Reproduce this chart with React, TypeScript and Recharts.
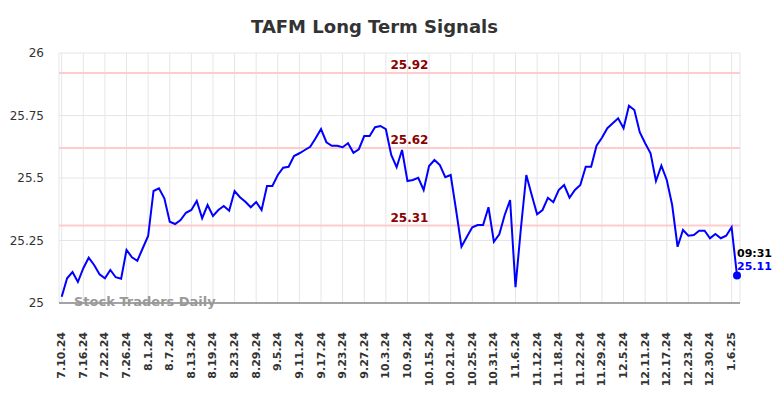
import React from "react";
import {
  LineChart,
  Line,
  XAxis,
  YAxis,
  CartesianGrid,
  ReferenceLine,
} from "recharts";

// trading days, 7.10.24 .. 1.7.25 (last one is the intraday point)
const dates = [
  "7.10.24", "7.11.24", "7.12.24", "7.15.24", "7.16.24", "7.17.24", "7.18.24", "7.19.24",
  "7.22.24", "7.23.24", "7.24.24", "7.25.24", "7.26.24", "7.29.24", "7.30.24", "7.31.24",
  "8.1.24", "8.2.24", "8.5.24", "8.6.24", "8.7.24", "8.8.24", "8.9.24", "8.12.24",
  "8.13.24", "8.14.24", "8.15.24", "8.16.24", "8.19.24", "8.20.24", "8.21.24", "8.22.24",
  "8.23.24", "8.26.24", "8.27.24", "8.28.24", "8.29.24", "8.30.24",
  "9.3.24", "9.4.24", "9.5.24", "9.6.24", "9.9.24", "9.10.24", "9.11.24", "9.12.24",
  "9.13.24", "9.16.24", "9.17.24", "9.18.24", "9.19.24", "9.20.24", "9.23.24", "9.24.24",
  "9.25.24", "9.26.24", "9.27.24", "9.30.24",
  "10.1.24", "10.2.24", "10.3.24", "10.4.24", "10.7.24", "10.8.24", "10.9.24", "10.10.24",
  "10.11.24", "10.14.24", "10.15.24", "10.16.24", "10.17.24", "10.18.24", "10.21.24",
  "10.22.24", "10.23.24", "10.24.24", "10.25.24", "10.28.24", "10.29.24", "10.30.24", "10.31.24",
  "11.1.24", "11.4.24", "11.5.24", "11.6.24", "11.7.24", "11.8.24", "11.11.24", "11.12.24",
  "11.13.24", "11.14.24", "11.15.24", "11.18.24", "11.19.24", "11.20.24", "11.21.24",
  "11.22.24", "11.25.24", "11.26.24", "11.27.24", "11.29.24",
  "12.2.24", "12.3.24", "12.4.24", "12.5.24", "12.6.24", "12.9.24", "12.10.24", "12.11.24",
  "12.12.24", "12.13.24", "12.16.24", "12.17.24", "12.18.24", "12.19.24", "12.20.24",
  "12.23.24", "12.24.24", "12.26.24", "12.27.24", "12.30.24", "12.31.24",
  "1.2.25", "1.3.25", "1.6.25", "1.7.25",
];

const prices = [
  25.025, 25.099, 25.124, 25.084, 25.139, 25.181, 25.152, 25.115, 25.099, 25.132,
  25.103, 25.097, 25.212, 25.183, 25.169, 25.219, 25.268, 25.448, 25.459, 25.419,
  25.325, 25.316, 25.332, 25.361, 25.372, 25.408, 25.339, 25.392, 25.348, 25.372,
  25.388, 25.369, 25.448, 25.423, 25.405, 25.383, 25.404, 25.372, 25.468, 25.468,
  25.512, 25.541, 25.545, 25.588, 25.599, 25.612, 25.625, 25.659, 25.696, 25.643,
  25.629, 25.629, 25.623, 25.639, 25.601, 25.615, 25.668, 25.668, 25.703, 25.708,
  25.695, 25.592, 25.543, 25.612, 25.488, 25.492, 25.501, 25.452, 25.548, 25.572,
  25.552, 25.503, 25.512, 25.372, 25.225, 25.265, 25.303, 25.312, 25.312, 25.383,
  25.245, 25.275, 25.352, 25.412, 25.063, 25.299, 25.512, 25.432, 25.355, 25.372,
  25.421, 25.403, 25.452, 25.472, 25.421, 25.452, 25.472, 25.545, 25.545, 25.629,
  25.661, 25.699, 25.719, 25.739, 25.699, 25.789, 25.772, 25.683, 25.639, 25.599,
  25.488, 25.549, 25.492, 25.392, 25.225, 25.292, 25.269, 25.272, 25.289, 25.289,
  25.259, 25.276, 25.259, 25.269, 25.303, 25.11,
];

const yTicks = [25, 25.25, 25.5, 25.75, 26];
const signals = [25.92, 25.62, 25.31];
const lastTime = "09:31";

const data = dates.map((d, i) => ({ date: d, price: prices[i] }));

const DateTick = (props: any) => {
  const { x, y, payload } = props;
  const ty = y + 21;
  return (
    <text
      x={x}
      y={ty}
      transform={`rotate(-90 ${x} ${ty})`}
      textAnchor="end"
      dominantBaseline="central"
      fontSize={11}
      fontWeight="bold"
      fill="#333"
      fontFamily="DejaVu Sans"
    >
      {payload.value}
    </text>
  );
};

const EndDot = (props: any) => {
  const { cx, cy, index } = props;
  if (index !== prices.length - 1) return <g key={"d" + index} />;
  return (
    <g key={"d" + index}>
      <circle cx={cx} cy={cy} r={4} fill="#0000ff" />
      <text x={cx} y={cy - 19} fontSize={11} fontWeight="bold" fill="#000">
        {lastTime}
      </text>
      <text x={cx} y={cy - 6} fontSize={11} fontWeight="bold" fill="#0000ff">
        {prices[prices.length - 1].toFixed(2)}
      </text>
    </g>
  );
};

export default function App() {
  return (
    <div
      style={{
        position: "absolute",
        left: 0,
        top: 0,
        width: 784,
        height: 398,
        fontFamily: "DejaVu Sans",
        background: "#fff",
      }}
    >
      <LineChart
        width={784}
        height={398}
        data={data}
        margin={{ top: 53, right: 44, bottom: 0, left: 0 }}
      >
        <CartesianGrid stroke="#e6e6e6" strokeWidth={1} />
        <XAxis
          dataKey="date"
          interval={3}
          height={95}
          padding={{ left: 2.7, right: 3 }}
          tickLine={false}
          axisLine={{ stroke: "#555", strokeWidth: 1 }}
          tick={<DateTick />}
        />
        <YAxis
          width={59}
          domain={[25, 26]}
          ticks={yTicks}
          axisLine={false}
          tickLine={false}
          tickMargin={9}
          tick={{ fontSize: 12, fill: "#333", fontFamily: "DejaVu Sans" }}
        />
        {signals.map((s) => (
          <ReferenceLine
            key={s}
            y={s}
            stroke="#ffcccc"
            strokeWidth={2}
            label={{
              value: s.toFixed(2),
              position: "top",
              offset: 4,
              dx: 10,
              fill: "#8b0000",
              fontSize: 12,
              fontWeight: "bold",
            }}
          />
        ))}
        <Line
          type="linear"
          dataKey="price"
          stroke="#0000ff"
          strokeWidth={2}
          dot={EndDot}
          activeDot={false}
          isAnimationActive={false}
        />
      </LineChart>
      <svg
        width={784}
        height={398}
        style={{ position: "absolute", left: 0, top: 0, pointerEvents: "none" }}
      >
        <text
          x={374.5}
          y={33}
          textAnchor="middle"
          fontSize={18}
          fontWeight="bold"
          fill="#333"
          fontFamily="DejaVu Sans"
        >
          TAFM Long Term Signals
        </text>
        <text
          x={74}
          y={306}
          fontSize={13}
          fontWeight="bold"
          fill="#999"
          fontFamily="DejaVu Sans"
        >
          Stock Traders Daily
        </text>
      </svg>
    </div>
  );
}
